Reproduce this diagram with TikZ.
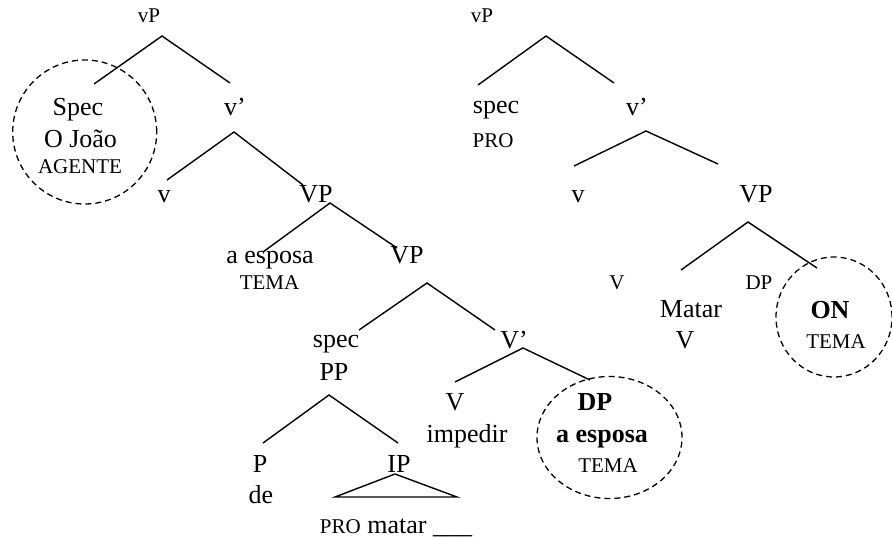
\documentclass[tikz,border=0pt]{standalone}
\usepackage{fontspec}
\setmainfont{Liberation Serif}
\usetikzlibrary{shapes.geometric}
\newcommand{\bigtxt}{\fontsize{26}{28}\selectfont}
\newcommand{\smalltxt}{\fontsize{21}{23}\selectfont}
\tikzset{
  lbl/.style={anchor=base, inner sep=0pt, font=\bigtxt},
  slbl/.style={anchor=base, inner sep=0pt, font=\smalltxt},
  blbl/.style={anchor=base, inner sep=0pt, font=\bigtxt\bfseries},
  branch/.style={line width=1.4pt},
  focus/.style={ellipse, draw, dash pattern=on 6pt off 4pt, line width=1.3pt, inner sep=0pt},
}
\begin{document}
\begin{tikzpicture}[x=1pt, y=-1pt]
\useasboundingbox (0,0) rectangle (892,538);

% ---------- left tree ----------
\node[slbl] (lvP) at (149,23) {vP};
\node[lbl] (lSpec) at (78,115) {Spec};
\node[lbl] (lJoao) at (80.5,147) {O João};
\node[slbl] (lAgente) at (80,173) {AGENTE};
\node[lbl] (lvbar) at (235,115) {v’};
\node[lbl] (lv) at (164,202) {v};
\node[lbl] (lVP1) at (316,202) {VP};
\node[lbl] (lEsposa) at (270,263) {a esposa};
\node[slbl] (lTema1) at (269.5,289) {TEMA};
\node[lbl] (lVP2) at (407,263) {VP};
\node[lbl] (lspec) at (336,347) {spec};
\node[lbl] (lPP) at (334,380) {PP};
\node[lbl] (lP) at (260,472) {P};
\node[lbl] (lde) at (261,503) {de};
\node[lbl] (lIP) at (399,472) {IP};
\node[lbl] (lPro) at (396,533) {{\smalltxt PRO} matar \_\_\_};
\node[lbl] (lVbar) at (514,348) {V’};
\node[lbl] (lV) at (455,410) {V};
\node[lbl] (lImpedir) at (467,442) {impedir};
\node[blbl] (lDP) at (595,410) {DP};
\node[blbl] (lEsposaB) at (602,442) {a esposa};
\node[slbl] (lTema2) at (608,472) {TEMA};

\node[focus, minimum width=144pt, minimum height=144pt] (cAgente) at (84.7,132) {};
\node[focus, minimum width=145pt, minimum height=122pt] (cTema) at (609.5,437.5) {};

% branch points
\coordinate (a1) at (162,36);  \coordinate (a1l) at (94,84);   \coordinate (a1r) at (230,83);
\coordinate (a2) at (234,132); \coordinate (a2l) at (167,180); \coordinate (a2r) at (303,185);
\coordinate (a3) at (330,203); \coordinate (a3l) at (263,252); \coordinate (a3r) at (397,248);
\coordinate (a4) at (427,283); \coordinate (a4l) at (359,330); \coordinate (a4r) at (495,330);
\coordinate (a5) at (523,348); \coordinate (a5l) at (455,382); \coordinate (a5r) at (590,380);
\coordinate (a6) at (329,395); \coordinate (a6l) at (263,443); \coordinate (a6r) at (398,443);
\coordinate (t1) at (395,474); \coordinate (t1l) at (335,497); \coordinate (t1r) at (457,497);

\foreach \n in {a1,a2,a3,a4,a5,a6}{
  \draw[branch] (\n l) -- (\n) -- (\n r);
}
\draw[branch] (t1) -- (t1l) -- (t1r) -- cycle;

% ---------- right tree ----------
\node[slbl] (rvP) at (482,23) {vP};
\node[lbl] (rspec) at (496,113) {spec};
\node[slbl] (rPRO) at (493,147) {PRO};
\node[lbl] (rvbar) at (637,115) {v’};
\node[lbl] (rv) at (578,202) {v};
\node[lbl] (rVP) at (756,202) {VP};
\node[slbl] (rVs) at (617,289) {V};
\node[slbl] (rDPs) at (759,289) {DP};
\node[lbl] (rMatar) at (691,317) {Matar};
\node[lbl] (rV) at (685,348) {V};
\node[blbl] (rON) at (830,318) {ON};
\node[slbl] (rTema) at (836,348) {TEMA};

\node[focus, minimum width=116pt, minimum height=120pt] (cON) at (834,317) {};

\coordinate (b1) at (546,36);  \coordinate (b1l) at (478,85);  \coordinate (b1r) at (614,83);
\coordinate (b2) at (646,131); \coordinate (b2l) at (574,166); \coordinate (b2r) at (718,164);
\coordinate (b3) at (748,222); \coordinate (b3l) at (681,270); \coordinate (b3r) at (817,268);

\foreach \n in {b1,b2,b3}{
  \draw[branch] (\n l) -- (\n) -- (\n r);
}
\end{tikzpicture}
\end{document}
